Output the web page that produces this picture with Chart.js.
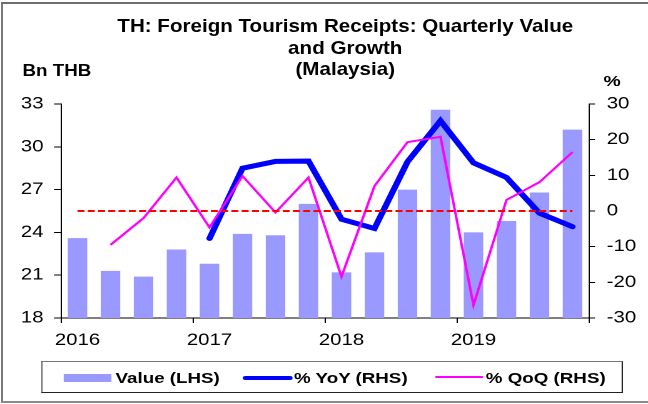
<!DOCTYPE html>
<html>
<head>
<meta charset="utf-8">
<script src="https://cdn.jsdelivr.net/npm/chart.js@4"></script>
<style>
  html, body { margin: 0; padding: 0; background: #fff; overflow: hidden; }
  body { width: 648px; height: 404px; position: relative; }
  #frame { position: absolute; left: 1px; top: 2px; width: 700px; height: 401px; box-sizing: border-box;
           border-left: 2px solid #7a7a7a; border-top: 2px solid #6e6e6e; border-bottom: 2px solid #8a8a8a; }
  #wrap { position: absolute; left: 0; top: 0; width: 518px; height: 404px;
          transform: scaleX(1.251); transform-origin: 0 0; font-family: 'Liberation Sans', Arial, sans-serif; color: #000; }
  #wrap canvas { position: absolute; left: 0; top: 0; }
  .t { position: absolute; white-space: nowrap; font-weight: bold; }
  #title { left: 25.8px; width: 500px; top: 16px; text-align: center; font-size: 17.8px; line-height: 21.5px;
           transform: scaleX(0.925); transform-origin: 250px 0; }
  #lhs { left: 18px; top: 62.2px; font-size: 15.8px; line-height: 18px; transform: scaleX(0.95); transform-origin: 0 0; }
  #rhs { left: 482.4px; top: 72px; font-size: 15.5px; line-height: 18px; }
  #legend { position: absolute; left: 33.3px; top: 360.7px; width: 464.9px; height: 32.6px; box-sizing: border-box;
            border: 1px solid #222; border-top-color: #777; border-left-color: #555; }
  .sw { position: absolute; }
  .lt { position: absolute; top: 369px; font-size: 15px; line-height: 18px; font-weight: bold; white-space: nowrap; }
</style>
</head>
<body>
<div id="frame"></div>
<div id="wrap">
  <canvas id="c" width="518" height="404"></canvas>
  <div class="t" id="title">TH: Foreign Tourism Receipts: Quarterly Value<br>and Growth<br>(Malaysia)</div>
  <div class="t" id="lhs">Bn THB</div>
  <div class="t" id="rhs">%</div>
  <div id="legend"></div>
  <div class="sw" style="left:51.2px;top:374px;width:37.6px;height:8px;background:#9999FF"></div>
  <div class="lt" style="left:92.4px">Value (LHS)</div>
  <div class="sw" style="left:193.7px;top:375.5px;width:40.8px;height:4.5px;background:#0000FF;border-radius:2px"></div>
  <div class="lt" style="left:235px">% YoY (RHS)</div>
  <div class="sw" style="left:347.7px;top:375.7px;width:38.1px;height:2px;background:#FF00FF"></div>
  <div class="lt" style="left:388.3px">% QoQ (RHS)</div>
</div>
<script>
const quarters = ['Q1 2016','Q2 2016','Q3 2016','Q4 2016',
                  'Q1 2017','Q2 2017','Q3 2017','Q4 2017',
                  'Q1 2018','Q2 2018','Q3 2018','Q4 2018',
                  'Q1 2019','Q2 2019','Q3 2019','Q4 2019'];
const valueBnTHB = [23.6, 21.3, 20.9, 22.8, 21.8, 23.9, 23.8, 26.0,
                    21.2, 22.6, 27.0, 32.6, 24.0, 24.8, 26.8, 31.2];
const yoyPct = [null, null, null, null, -7.7, 12.0, 13.9, 14.0,
                -2.3, -4.9, 13.8, 25.3, 13.5, 9.4, -0.6, -4.4];
const qoqPct = [null, -9.5, -2.0, 9.4, -4.6, 9.8, -0.4, 9.4,
                -18.4, 7.0, 19.3, 20.8, -26.4, 3.1, 8.1, 16.5];
const zeroLine = [0, 0, 0, 0, 0, 0, 0, 0, 0, 0, 0, 0, 0, 0, 0, 0];
const leftTicks = { min: 18, max: 33, step: 3 };
const rightTicks = { min: -30, max: 30, step: 10 };

const FONT = { family: "'Liberation Sans', Arial, sans-serif", size: 16.3 };

new Chart(document.getElementById('c'), {
  data: {
    labels: quarters,
    datasets: [
      { type: 'bar', label: 'Value (LHS)', data: valueBnTHB, yAxisID: 'y', order: 4,
        backgroundColor: '#9999FF', borderWidth: 0, barPercentage: 0.59, categoryPercentage: 1 },
      { type: 'line', label: '% YoY (RHS)', data: yoyPct, yAxisID: 'y1', order: 3,
        borderColor: '#0000FF', borderWidth: 5, pointRadius: 0, tension: 0, fill: false,
        borderCapStyle: 'round', borderJoinStyle: 'miter' },
      { type: 'line', label: '% QoQ (RHS)', data: qoqPct, yAxisID: 'y1', order: 2,
        borderColor: '#FF00FF', borderWidth: 2, pointRadius: 0, tension: 0, fill: false },
      { type: 'line', label: 'zero', data: zeroLine, yAxisID: 'y1', order: 1,
        borderColor: '#FF0000', borderWidth: 2, borderDash: [5.6, 2.6], pointRadius: 0, tension: 0, fill: false }
    ]
  },
  options: {
    responsive: false,
    animation: false,
    devicePixelRatio: 2,
    layout: { padding: { top: 104, left: 0, right: 0, bottom: 0 } },
    plugins: { legend: { display: false }, title: { display: false }, tooltip: { enabled: false } },
    scales: {
      x: {
        type: 'category',
        offset: true,
        afterFit: s => { s.height = 86; },
        grid: {
          offset: true, drawOnChartArea: false, drawTicks: true, tickLength: 5, lineWidth: 1,
          color: ctx => (ctx.type === 'tick' ? (ctx.index % 4 === 0 ? '#000' : 'rgba(0,0,0,0)') : '#000')
        },
        border: { display: true, color: '#000', width: 1 },
        ticks: {
          autoSkip: false, maxRotation: 0, minRotation: 0, padding: 7.5, color: '#000', font: FONT,
          callback: function (v, i) { const q = quarters[i]; return q.startsWith('Q1') ? q.slice(3) : ''; }
        }
      },
      y: {
        position: 'left',
        min: leftTicks.min, max: leftTicks.max,
        afterFit: s => { s.width = 48.76; },
        grid: { drawOnChartArea: false, drawTicks: true, tickLength: 5.6, color: '#000', lineWidth: 1 },
        border: { display: true, color: '#000', width: 1 },
        ticks: { stepSize: leftTicks.step, padding: 8.4, color: '#000', font: FONT }
      },
      y1: {
        position: 'right',
        min: rightTicks.min, max: rightTicks.max,
        afterFit: s => { s.width = 47.2; },
        grid: { drawOnChartArea: false, drawTicks: true, tickLength: 4.8, color: '#000', lineWidth: 1 },
        border: { display: true, color: '#000', width: 1 },
        ticks: { stepSize: rightTicks.step, padding: 9.4, color: '#000', font: FONT }
      }
    }
  }
});
</script>
</body>
</html>
